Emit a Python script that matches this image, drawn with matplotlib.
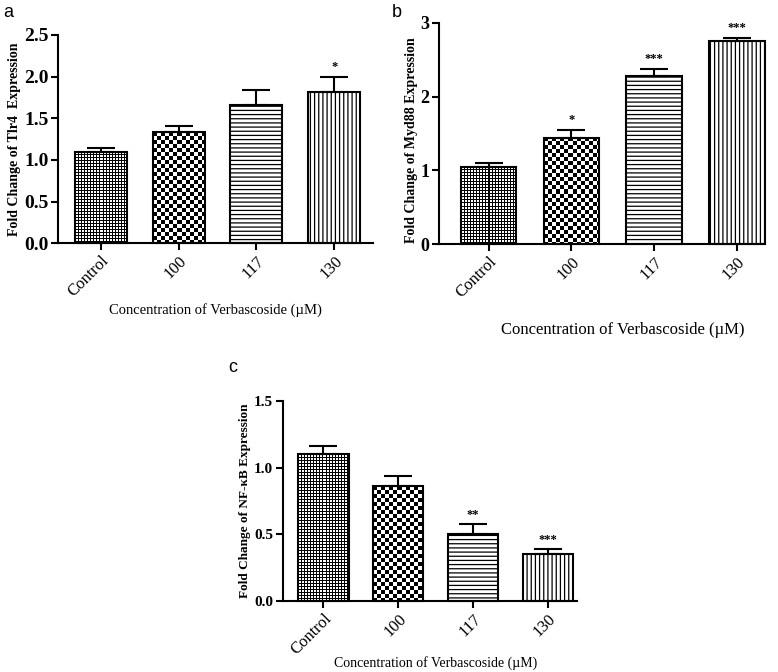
import numpy as np
import matplotlib
matplotlib.use('Agg')
import matplotlib.pyplot as plt

plt.rcParams['font.family'] = 'Liberation Serif'
plt.rcParams['hatch.linewidth'] = 0.9

groups = ['Control', '100', '117', '130']

tlr4_mean = [1.10, 1.33, 1.66, 1.81]
tlr4_err = [0.04, 0.08, 0.18, 0.19]
tlr4_sig = ['', '', '', '*']

myd88_mean = [1.05, 1.44, 2.28, 2.75]
myd88_err = [0.05, 0.11, 0.10, 0.05]
myd88_sig = ['', '*', '***', '***']

nfkb_mean = [1.10, 0.86, 0.50, 0.35]
nfkb_err = [0.06, 0.08, 0.08, 0.04]
nfkb_sig = ['', '', '**', '***']

xlabel = 'Concentration of Verbascoside (\u00b5M)'

# pixel tiles for the dotted / checkered fills (1 = white, 0 = black)
dots = np.zeros((3, 3)); dots[1:3, 1:3] = 1
checker = np.kron(np.array([[0, 1], [1, 0]]), np.ones((4, 4)))
fills = [dots, checker, '----', '||||']


def fill_texture(ax, bar, tile):
    x0, y0 = bar.get_x(), bar.get_y()
    w, h = bar.get_width(), bar.get_height()
    p0 = ax.transData.transform((x0, y0))
    p1 = ax.transData.transform((x0 + w, y0 + h))
    nx = max(int(round(p1[0] - p0[0])), 1)
    ny = max(int(round(p1[1] - p0[1])), 1)
    ty, tx = tile.shape
    img = np.tile(tile, (ny // ty + 1, nx // tx + 1))[:ny, :nx]
    im = ax.imshow(img, cmap='gray', vmin=0, vmax=1, extent=(x0, x0 + w, y0, y0 + h),
                   origin='upper', aspect='auto', interpolation='nearest', zorder=1)
    im.set_clip_path(bar)


def panel(rect, means, errs, sigs, ylim, yticks, ylabel, xlim, fs, ylfs, xlfs,
          ylpos, xlpos, letter, letter_xy):
    ax = fig.add_axes(rect)
    ax.set_xlim(*xlim)
    ax.set_ylim(*ylim)
    x = np.arange(len(groups))
    bars = ax.bar(x, means, width=0.67, facecolor='white', edgecolor='black', lw=1.5,
                  zorder=2, clip_on=False)
    for b, f in zip(bars, fills):
        if isinstance(f, str):
            b.set_hatch(f)
        else:
            b.set_facecolor('none')
            fill_texture(ax, b, f)
    ax.errorbar(x, means, yerr=[np.zeros(len(means)), errs], fmt='none', ecolor='black',
                elinewidth=1.5, capsize=10, capthick=1.5, zorder=3)
    for xi, m, e, s in zip(x, means, errs, sigs):
        if s:
            ax.text(xi, m + e + (ylim[1] - ylim[0]) * 0.015, s, ha='center', va='bottom',
                    fontsize=9, fontweight='bold')
    ax.set_xlim(*xlim)
    ax.set_ylim(*ylim)
    ax.set_yticks(yticks)
    ax.set_xticks(x)
    ax.set_xticklabels(groups, rotation=45, ha='right', rotation_mode='anchor', fontsize=12)
    for lab in ax.get_yticklabels():
        lab.set_fontsize(fs)
        lab.set_fontweight('bold')
    ax.spines['top'].set_visible(False)
    ax.spines['right'].set_visible(False)
    ax.spines['left'].set_linewidth(1.5)
    ax.spines['bottom'].set_linewidth(1.5)
    ax.tick_params(width=1.5, length=5, pad=2)
    ax.set_ylabel(ylabel, fontsize=ylfs, fontweight='bold', va='center')
    ax.yaxis.set_label_coords(*ylpos)
    ax.set_xlabel(xlabel, fontsize=xlfs, va='center')
    ax.xaxis.set_label_coords(*xlpos)
    fig.text(letter_xy[0], letter_xy[1], letter, fontsize=13, family='Liberation Sans')
    return ax


fig = plt.figure(figsize=(7.78, 6.72), dpi=100)

panel([0.0746, 0.638, 0.405, 0.310], tlr4_mean, tlr4_err, tlr4_sig, (0, 2.5),
      [0, 0.5, 1.0, 1.5, 2.0, 2.5], 'Fold Change of Tlr4  Expression', (-0.55, 3.5),
      14, 10, 10.5, (-0.137, 0.5), (0.5, -0.322), 'a', (0.004, 0.975))
panel([0.5643, 0.6369, 0.419, 0.329], myd88_mean, myd88_err, myd88_sig, (0, 3),
      [0, 1, 2, 3], 'Fold Change of Myd88 Expression', (-0.60, 3.34),
      13, 10, 12, (-0.085, 0.47), (0.565, -0.389), 'b', (0.503, 0.975))
panel([0.3638, 0.1057, 0.378, 0.2976], nfkb_mean, nfkb_err, nfkb_sig, (0, 1.5),
      [0, 0.5, 1.0, 1.5], 'Fold Change of NF-\u03baB Expression', (-0.54, 3.39),
      11, 9.5, 10, (-0.129, 0.5), (0.52, -0.31), 'c', (0.293, 0.447))

fig.savefig('out.png', dpi=100)
